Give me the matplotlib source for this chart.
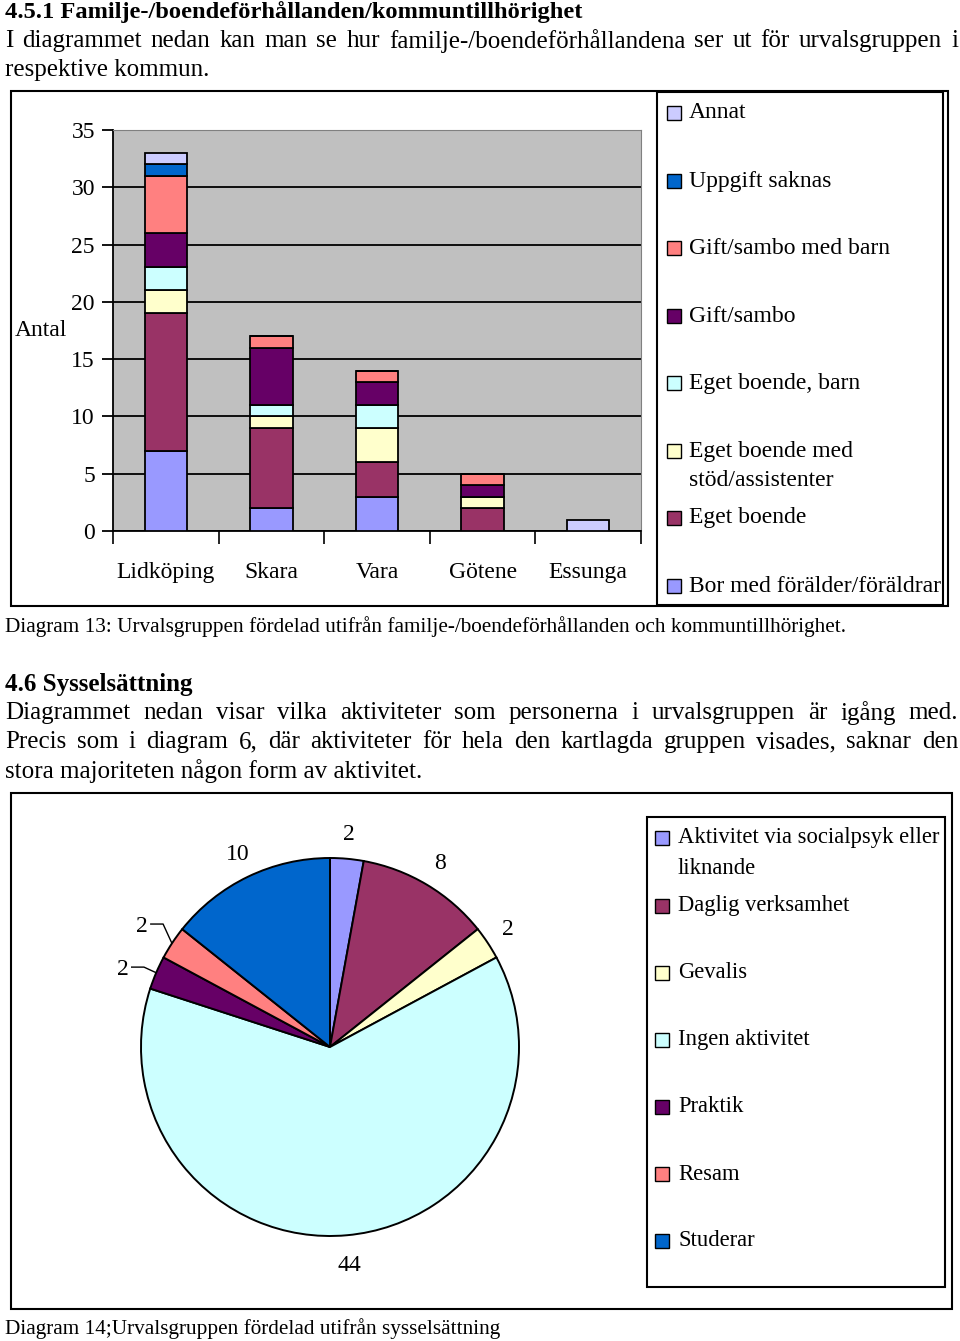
import numpy as np
import matplotlib
matplotlib.use("Agg")
import matplotlib.pyplot as plt
from matplotlib.patches import Rectangle

plt.rcParams['font.family'] = ['Liberation Serif', 'DejaVu Serif']

W, H = 960, 1341

# --- data: diagram 13 (stacked bars) ---
kommuner = ["Lidköping", "Skara", "Vara", "Götene", "Essunga"]
bor_med_foralder = [7, 2, 3, 0, 0]
eget_boende = [12, 7, 3, 2, 0]
eget_boende_stod = [2, 1, 3, 1, 0]
eget_boende_barn = [2, 1, 2, 0, 0]
gift_sambo = [3, 5, 2, 1, 0]
gift_sambo_barn = [5, 1, 1, 1, 0]
uppgift_saknas = [1, 0, 0, 0, 0]
annat = [1, 0, 0, 0, 1]

bar_series = [
    ("Bor med förälder/föräldrar", bor_med_foralder, "#9999FF"),
    ("Eget boende", eget_boende, "#993366"),
    ("Eget boende med\nstöd/assistenter", eget_boende_stod, "#FFFFCC"),
    ("Eget boende, barn", eget_boende_barn, "#CCFFFF"),
    ("Gift/sambo", gift_sambo, "#660066"),
    ("Gift/sambo med barn", gift_sambo_barn, "#FF8080"),
    ("Uppgift saknas", uppgift_saknas, "#0066CC"),
    ("Annat", annat, "#CCCCFF"),
]

# --- data: diagram 14 (pie) ---
aktiviteter = ["Aktivitet via socialpsyk eller\nliknande", "Daglig verksamhet", "Gevalis",
               "Ingen aktivitet", "Praktik", "Resam", "Studerar"]
antal_akt = [2, 8, 2, 44, 2, 2, 10]
pie_colors = ["#9999FF", "#993366", "#FFFFCC", "#CCFFFF", "#660066", "#FF8080", "#0066CC"]

fig = plt.figure(figsize=(W / 100, H / 100), dpi=100)


def fx(x):
    return x / W


def fy(y):
    return 1 - y / H


def box(x0, y0, x1, y1, lw=1.5):
    fig.patches.append(Rectangle((fx(x0), fy(y1)), fx(x1) - fx(x0), fy(y0) - fy(y1),
                                 transform=fig.transFigure, fill=False,
                                 edgecolor="black", linewidth=lw))


renderer = fig.canvas.get_renderer()


def justify(line, x0, x1, y, size, **kw):
    words = line.split()
    texts = [fig.text(0, fy(y), w, fontsize=size, va="center", ha="left", **kw) for w in words]
    widths = [t.get_window_extent(renderer).width for t in texts]
    gap = (x1 - x0 - sum(widths)) / (len(words) - 1)
    x = x0
    for t, w in zip(texts, widths):
        t.set_x(fx(x))
        x += w + gap


def fit(line, x0, x1, y, size, **kw):
    t = fig.text(fx(x0), fy(y), line, fontsize=size, va="center", ha="left", **kw)
    w = t.get_window_extent(renderer).width
    t.set_fontsize(size * (x1 - x0) / w)
    return t


# --- document text ---
fit("4.5.1 Familje-/boendeförhållanden/kommuntillhörighet", 5, 585, 12, 17, fontweight="bold")
justify("I diagrammet nedan kan man se hur familje-/boendeförhållandena ser ut för urvalsgruppen i",
        5, 958, 41, 18)
fig.text(fx(5), fy(70), "respektive kommun.", fontsize=18, va="center")
fit("Diagram 13: Urvalsgruppen fördelad utifrån familje-/boendeförhållanden och kommuntillhörighet.",
    5, 845, 627, 13)
fit("4.6 Sysselsättning", 5, 193, 684, 17, fontweight="bold")
justify("Diagrammet nedan visar vilka aktiviteter som personerna i urvalsgruppen är igång med.",
        5, 958, 713, 18)
justify("Precis som i diagram 6, där aktiviteter för hela den kartlagda gruppen visades, saknar den",
        5, 958, 742, 18)
fit("stora majoriteten någon form av aktivitet.", 5, 423, 771, 18)
fit("Diagram 14;Urvalsgruppen fördelad utifrån sysselsättning", 5, 502, 1329, 13.5)

# --- diagram 13 ---
box(11, 91, 948, 606)
box(657, 92, 943, 605)

ax = fig.add_axes([fx(113), fy(531), fx(641) - fx(113), fy(130) - fy(531)])
ax.set_facecolor("#C0C0C0")
x = np.arange(len(kommuner))
bottom = np.zeros(len(kommuner))
for name, vals, col in bar_series:
    vals = np.array(vals, dtype=float)
    ax.bar(x, vals, width=0.4, bottom=bottom, color=col, edgecolor="black",
           linewidth=1.3, zorder=3)
    bottom += vals
ax.set_xlim(-0.5, 4.5)
ax.set_ylim(0, 35)
ax.set_yticks(range(0, 36, 5))
ax.yaxis.grid(True, color="black", linewidth=1.3, zorder=1)
ax.set_axisbelow(True)
ax.set_xticks(x)
ax.set_xticklabels(kommuner, fontsize=17)
ax.set_xticks(np.arange(-0.5, 5, 1), minor=True)
ax.tick_params(axis="x", which="major", length=0, pad=22)
ax.tick_params(axis="x", which="minor", length=9, width=1.2, direction="out")
ax.tick_params(axis="y", length=8, width=1.3, direction="out", pad=5, labelsize=17)
for s in ["top", "right"]:
    ax.spines[s].set_color("#808080")
for s in ["left", "bottom"]:
    ax.spines[s].set_color("black")
    ax.spines[s].set_linewidth(1.3)
fig.text(fx(15), fy(331), "Antal", fontsize=17, va="center")

# legend, drawn by hand (top entry = last series)
leg_y = [586, 518, 451, 383, 316, 248, 181, 113]
for (name, vals, col), yy in zip(bar_series, leg_y):
    fig.patches.append(Rectangle((fx(667), fy(yy + 7)), fx(14), 14 / H,
                                 transform=fig.transFigure, facecolor=col,
                                 edgecolor="black", linewidth=1.0))
    fig.text(fx(689), fy(yy), name.split("\n")[0], fontsize=17, va="center")
    if "\n" in name:
        fig.text(fx(689), fy(yy + 30), name.split("\n")[1], fontsize=17, va="center")

# --- diagram 14 ---
box(11, 793, 952, 1309)
box(647, 817, 945, 1287)

R = 189
pax = fig.add_axes([fx(330 - R), fy(1047 + R), fx(2 * R), 2 * R / H])
wedges, texts = pax.pie(antal_akt, colors=pie_colors, startangle=90, counterclock=False,
                        labels=[str(v) for v in antal_akt], labeldistance=1.13,
                        wedgeprops=dict(edgecolor="black", linewidth=1.4),
                        textprops=dict(fontsize=17))
pax.set_xlim(-1, 1)
pax.set_ylim(-1, 1)
for t in texts:
    t.set_ha("center")
    t.set_va("center")
# the big slice label sits a bit further out
w = wedges[3]
a = np.deg2rad((w.theta1 + w.theta2) / 2)
texts[3].set_position((1.16 * np.cos(a), 1.16 * np.sin(a)))

# leader lines for the two small slices on the left (Praktik, Resam)
for i, dy in [(4, -0.06), (5, -0.02)]:
    w = wedges[i]
    ang = np.deg2rad((w.theta1 + w.theta2) / 2)
    ex, ey = np.cos(ang), np.sin(ang)
    lx, ly = 1.19 * np.cos(ang), 1.19 * np.sin(ang) + dy
    texts[i].set_position((lx, ly))
    pax.plot([lx + 0.045, lx + 0.11, ex * 1.005], [ly + 0.015, ly + 0.015, ey * 1.005],
             color="black", linewidth=1.0, clip_on=False)

leg2 = [838, 906, 973, 1040, 1107, 1174, 1241]
for name, col, yy in zip(aktiviteter, pie_colors, leg2):
    fig.patches.append(Rectangle((fx(655), fy(yy + 7)), fx(14), 14 / H,
                                 transform=fig.transFigure, facecolor=col,
                                 edgecolor="black", linewidth=1.0))
    fig.text(fx(678), fy(yy), name.split("\n")[0], fontsize=16.3, va="center")
    if "\n" in name:
        fig.text(fx(678), fy(yy + 30), name.split("\n")[1], fontsize=16.3, va="center")

fig.savefig("out.png", dpi=100)
